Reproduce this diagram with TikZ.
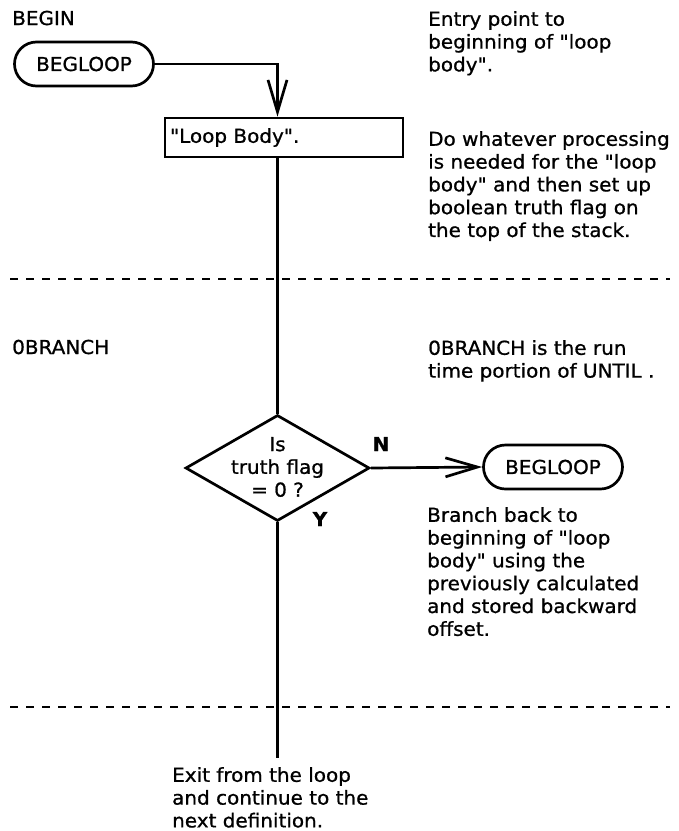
\documentclass[tikz,border=0pt]{standalone}
\usepackage{fontspec}
\newfontfamily\dv{DejaVu Sans}[FakeStretch=1.04, FakeBold=0.9]
\usetikzlibrary{arrows.meta,shapes.geometric}
\begin{document}
\begin{tikzpicture}[x=1pt,y=1pt,
  txt/.style={font=\dv\fontsize{19.2}{22.8}\selectfont, inner sep=0pt},
  bold/.style={font=\dv\fontsize{19.2}{22.8}\selectfont\bfseries, inner sep=0pt},
  blk/.style={txt, align=left, anchor=north west},
  ln/.style={line width=2.7pt},
  term/.style={draw, ln, rounded corners=22pt, minimum width=139pt, minimum height=44pt, txt},
  arr/.style={ln, -{Straight Barb[length=32pt,width=19pt,line width=2.7pt]}},
  sep/.style={line width=2.6pt, dash pattern=on 8pt off 8pt}]
\useasboundingbox (0,0) rectangle (679,-831);
% left labels
\node[txt, anchor=base west] (begin) at (12,-25) {BEGIN};
\node[txt, anchor=base west] (obr) at (12,-354) {0BRANCH};
% flow nodes
\node[term] (b1) at (84,-64) {BEGLOOP};
\node[draw, ln, txt, minimum width=238pt, minimum height=39pt, text width=228pt, align=left, inner xsep=5pt, inner ysep=0pt] (body) at (284,-137.5) {"Loop Body".};
\node[draw, ln, diamond, minimum width=184pt, minimum height=106pt, inner sep=0pt] (dia) at (277.5,-468) {};
\node[txt, align=center] (q) at (277.5,-467) {Is\\truth flag\\= 0 ?};
\node[bold] (n) at (381,-444) {N};
\node[bold] (y) at (320,-519) {Y};
\node[term] (b2) at (553,-467) {BEGLOOP};
\coordinate (exitend) at (277.5,-758);
% connectors
\draw[arr] (b1.east) -| (body.north -| dia.north);
\draw[ln] (body.south -| dia.north) -- (dia.north);
\draw[ln] (dia.south) -- (exitend);
\draw[arr] (dia.east) -- (b2.west);
% separators
\coordinate (s1a) at (10,-279); \coordinate (s1b) at (670,-279);
\coordinate (s2a) at (10,-707); \coordinate (s2b) at (670,-707);
\draw[sep] (s1a) -- (s1b);
\draw[sep] (s2a) -- (s2b);
% descriptions
\node[blk] (entry) at (428,-11) {Entry point to\\beginning of "loop\\body".};
\node[blk] (dowhat) at (428,-131) {Do whatever processing\\is needed for the "loop\\body" and then set up\\boolean truth flag on\\the top of the stack.};
\node[blk] (obtext) at (428,-340) {0BRANCH is the run\\time portion of UNTIL .};
\node[blk] (branch) at (427,-507) {Branch back to\\beginning of "loop\\body" using the\\previously calculated\\and stored backward\\offset.};
\node[blk] (exit) at (172,-767) {Exit from the loop\\and continue to the\\next definition.};
\end{tikzpicture}
\end{document}
